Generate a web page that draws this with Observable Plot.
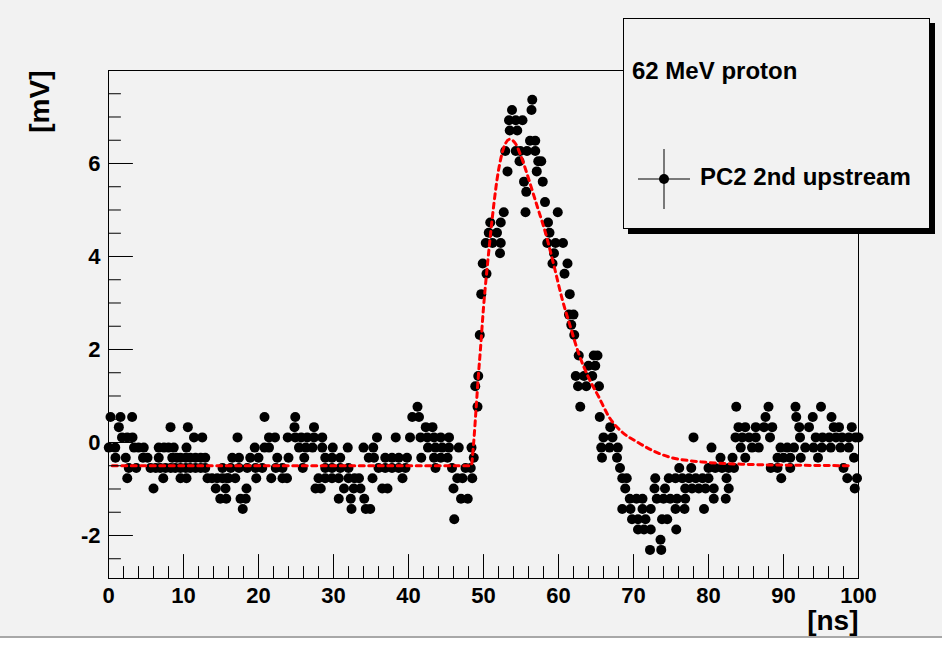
<!DOCTYPE html>
<html><head><meta charset="utf-8">
<script src="https://cdn.jsdelivr.net/npm/d3@7"></script>
<script src="https://cdn.jsdelivr.net/npm/@observablehq/plot@0.6"></script>
<style>
html,body{margin:0;padding:0;background:#f2f2f2;}
#wrap{position:relative;width:942px;height:645px;overflow:hidden;font-family:"Liberation Sans",Arial,Helvetica,sans-serif;font-weight:bold;}
#legend{position:absolute;left:623px;top:18px;width:305px;height:209px;border:1px solid #000;background:#f2f2f2;box-shadow:5px 5px 0 #000;}
#legend .t{position:absolute;font-size:24px;white-space:nowrap;}
#bottomEdge{position:absolute;left:0;top:636px;width:942px;height:9px;background:#ffffff;border-top:2px solid #a8a8a8;}
</style></head>
<body><div id="wrap"><div id="chart"></div>
<div id="legend">
  <div class="t" id="lt1" style="left:8px;top:38px;">62 MeV proton</div>
  <svg id="lmark" style="position:absolute;left:12px;top:128px" width="56" height="64"></svg>
  <div class="t" id="lt2" style="left:76px;top:144px;">PC2 2nd upstream</div>
</div>
<div id="bottomEdge"></div>
</div>
<script>
// ---- data: [time (ns), amplitude (mV)] ----
const baseline1 = [
 [0.27,0.55],[1.6,0.55],[3.15,0.55],
 [1.38,0.33],[8.27,0.33],[10.58,0.33],
 [1.8,0.11],[2.5,0.11],[3.2,0.11],[11.4,0.11],[12.5,0.11],
 [0.04,-0.11],[0.9,-0.11],[3.4,-0.11],[4.0,-0.11],[4.7,-0.11],[6.7,-0.11],[7.4,-0.11],[8.0,-0.11],[8.7,-0.11],[10.4,-0.11],
 [0.93,-0.33],[2.3,-0.33],[4.6,-0.33],[5.2,-0.33],[6.7,-0.33],[8.5,-0.33],[9.1,-0.33],[9.6,-0.33],[10.3,-0.33],[10.9,-0.33],[11.6,-0.33],[12.3,-0.33],[12.9,-0.33],
 [2.7,-0.55],[3.7,-0.55],[5.6,-0.55],[6.3,-0.55],[6.9,-0.55],[7.6,-0.55],[8.3,-0.55],[8.9,-0.55],[9.6,-0.55],[10.3,-0.55],[10.9,-0.55],[11.6,-0.55],[12.3,-0.55],[12.9,-0.55],[15.2,-0.55],
 [2.5,-0.77],[7.3,-0.77],[9.6,-0.77],[10.4,-0.77],[13.2,-0.77],[13.8,-0.77],[14.5,-0.77],[15.2,-0.77],[15.8,-0.77],
 [6.0,-0.99],[14.3,-0.99],[15.6,-0.99],
 [14.9,-1.21],[15.7,-1.21]
];
const baseline2 = [
 [20.8,0.55],[24.9,0.55],
 [24.8,0.33],[27.4,0.33],
 [17.2,0.11],[21.4,0.11],[22.2,0.11],[23.9,0.11],[24.9,0.11],[25.7,0.11],[26.5,0.11],[27.4,0.11],[28.5,0.11],
 [19.5,-0.11],[20.8,-0.11],[21.4,-0.11],[25.4,-0.11],[26.3,-0.11],[27.2,-0.11],[28.5,-0.11],[29.9,-0.11],[31.9,-0.11],
 [16.5,-0.33],[17.4,-0.33],[18.9,-0.33],[20.0,-0.33],[22.5,-0.33],[24.0,-0.33],[26.1,-0.33],[28.9,-0.33],[29.8,-0.33],[30.9,-0.33],
 [16.3,-0.55],[17.4,-0.55],[18.5,-0.55],[19.6,-0.55],[20.5,-0.55],[22.3,-0.55],[23.2,-0.55],[25.9,-0.55],[28.9,-0.55],[29.8,-0.55],[30.9,-0.55],[32.0,-0.55],
 [16.0,-0.77],[16.9,-0.77],[19.7,-0.77],[21.7,-0.77],[23.2,-0.77],[23.8,-0.77],[28.0,-0.77],[28.9,-0.77],[29.8,-0.77],[30.7,-0.77],[32.0,-0.77],[32.8,-0.77],
 [18.4,-0.99],[27.6,-0.99],[28.3,-0.99],[31.4,-0.99],[32.7,-0.99],
 [17.6,-1.21],[18.3,-1.21],[30.7,-1.21],[32.3,-1.21],
 [17.9,-1.43],[32.4,-1.43]
];
const baseline3 = [
 [41.2,0.77],
 [40.5,0.55],[41.4,0.55],
 [42.3,0.33],[43.2,0.33],
 [35.8,0.11],[38.3,0.11],[40.2,0.11],[41.6,0.11],[42.5,0.11],[43.4,0.11],[44.3,0.11],[45.4,0.11],
 [34.0,-0.11],[35.3,-0.11],[42.6,-0.11],[43.6,-0.11],[44.5,-0.11],[45.4,-0.11],[46.7,-0.11],[48.4,-0.11],
 [34.7,-0.33],[35.4,-0.33],[36.9,-0.33],[37.8,-0.33],[38.7,-0.33],[39.8,-0.33],[41.7,-0.33],[43.4,-0.33],[44.3,-0.33],[45.2,-0.33],[48.7,-0.33],
 [36.0,-0.55],[36.9,-0.55],[37.8,-0.55],[38.7,-0.55],[39.6,-0.55],[43.6,-0.55],[45.8,-0.55],[47.6,-0.55],[48.3,-0.55],
 [33.4,-0.77],[35.2,-0.77],[39.2,-0.77],[46.5,-0.77],[47.2,-0.77],[48.5,-0.77],
 [33.6,-0.99],[36.5,-0.99],[37.2,-0.99],[46.0,-0.99],
 [34.1,-1.21],[47.0,-1.21],[47.9,-1.21],
 [34.3,-1.43],[34.9,-1.43],
 [46.1,-1.65]
];
const pulse = [
 [49.2,0.77],[48.9,1.21],[49.3,1.43],[49.5,2.31],[49.7,3.19],[49.9,3.85],[50.4,3.63],
 [50.3,4.29],[51.2,4.29],[52.3,4.29],[52.2,4.07],[50.7,4.51],[51.8,4.51],[50.9,4.73],[52.3,4.73],[52.7,4.95],
 [53.2,5.83],[52.9,6.27],[53.5,6.71],[54.5,6.71],[53.4,6.93],[54.3,6.93],[55.2,6.93],[53.8,7.15],[56.5,7.37],[56.4,7.15],
 [56.2,6.49],[56.9,6.49],[54.3,6.27],[54.9,6.27],[55.8,6.27],[56.9,6.27],[54.8,6.05],[57.3,6.05],[57.7,6.05],[57.1,5.83],
 [55.4,5.61],[57.9,5.61],[55.7,5.39],[58.2,5.17],[55.6,4.95],[59.9,4.95],[58.6,4.73],[58.8,4.51],
 [58.5,4.29],[59.6,4.29],[60.6,4.29],[59.4,4.07],[59.2,3.85],[61.2,3.85],[60.8,3.63],[61.5,3.19],[61.4,2.75],[62.0,2.75],[61.7,2.53],[62.1,2.31]
];
const undershoot = [
 [62.7,1.87],[64.7,1.87],[65.2,1.87],[64.0,1.65],[64.9,1.65],[62.3,1.43],[63.4,1.43],[64.5,1.43],[62.6,1.21],[63.7,1.21],[65.4,1.21],
 [62.9,0.77],[65.5,0.55],[66.9,0.33],[66.0,0.11],[67.2,0.11],[78.0,0.11],
 [65.7,-0.11],[66.8,-0.11],[67.9,-0.11],
 [65.8,-0.33],[67.8,-0.33],
 [68.2,-0.55],[76.1,-0.55],[77.7,-0.55],
 [68.5,-0.77],[69.1,-0.77],[72.9,-0.77],[74.7,-0.77],[75.6,-0.77],[76.5,-0.77],[77.4,-0.77],[78.3,-0.77],[79.2,-0.77],
 [68.9,-0.99],[72.8,-0.99],[74.2,-0.99],[76.9,-0.99],[77.8,-0.99],[78.7,-0.99],
 [69.5,-1.21],[70.4,-1.21],[71.2,-1.21],[73.1,-1.21],[74.0,-1.21],[74.9,-1.21],[75.8,-1.21],[76.9,-1.21],
 [68.5,-1.43],[69.6,-1.43],[71.2,-1.43],[72.3,-1.43],[75.6,-1.43],[76.8,-1.43],[79.4,-1.43],
 [69.8,-1.65],[70.6,-1.65],[71.6,-1.65],[73.8,-1.65],[74.5,-1.65],
 [70.6,-1.87],[71.4,-1.87],[72.3,-1.87],[75.7,-1.87],
 [73.6,-2.09],
 [72.2,-2.31],[73.7,-2.31]
];
const tail = [
 [83.7,0.77],[88.0,0.77],[91.6,0.77],[95.0,0.77],
 [87.6,0.55],[91.7,0.55],[93.9,0.55],[96.4,0.55],
 [84.0,0.33],[84.9,0.33],[86.3,0.33],[87.4,0.33],[88.5,0.33],[92.1,0.33],[93.4,0.33],[96.7,0.33],[97.4,0.33],[99.1,0.33],
 [83.6,0.11],[84.5,0.11],[85.4,0.11],[86.3,0.11],[88.2,0.11],[92.2,0.11],[94.3,0.11],[95.2,0.11],[96.1,0.11],[97.0,0.11],[97.8,0.11],[98.7,0.11],[99.6,0.11],[100.0,0.11],
 [80.4,-0.11],[84.3,-0.11],[85.8,-0.11],[86.7,-0.11],[89.6,-0.11],[90.5,-0.11],[91.4,-0.11],[92.9,-0.11],[94.0,-0.11],[95.1,-0.11],[96.3,-0.11],[97.6,-0.11],[98.7,-0.11],
 [81.6,-0.33],[83.2,-0.33],[84.9,-0.33],[89.2,-0.33],[90.0,-0.33],[90.9,-0.33],[92.3,-0.33],[94.6,-0.33],[99.4,-0.33],
 [80.0,-0.55],[80.9,-0.55],[81.8,-0.55],[82.7,-0.55],[83.4,-0.55],[88.3,-0.55],[89.2,-0.55],[90.9,-0.55],[98.0,-0.55],
 [80.0,-0.77],[82.4,-0.77],[89.7,-0.77],[98.5,-0.77],[99.8,-0.77],
 [79.6,-0.99],[80.7,-0.99],[82.7,-0.99],[99.5,-0.99],
 [80.7,-1.21],[82.3,-1.21]
];
// fitted curve (red dashed)
const fitCurve = [
 [0.5,-0.5],[20,-0.5],[40,-0.5],[48.35,-0.5],[48.7,0.02],[49.0,0.7],[49.3,1.4],[49.6,2.02],[50.0,2.9],[50.5,3.78],[50.9,4.42],[51.4,5.15],[51.8,5.65],[52.3,6.1],[52.9,6.42],[53.5,6.52],[54.3,6.42],[54.9,6.2],[55.8,5.78],[56.5,5.42],[57.2,5.06],[58.3,4.49],[59.4,3.8],[60.5,3.08],[61.6,2.48],[62.7,1.91],[64.0,1.40],[65.4,0.97],[66.7,0.56],[68.5,0.22],[70.3,0.03],[72.5,-0.17],[74.7,-0.31],[77.4,-0.39],[79.2,-0.42],[85,-0.47],[92,-0.49],[99,-0.5]
];
const xTickLabels = [0,10,20,30,40,50,60,70,80,90,100];
const yTickLabels = [-2,0,2,4,6];
const xMinorTicks = d3.range(0, 101, 2);
const yMinorTicks = d3.range(-2.5, 8.01, 0.5);
const xDomain = [0, 100];
const yDomain = [-2.925, 8.0];
const titleX = "[ns]";
const titleY = "[mV]";
const legendTitle = "62 MeV proton";
const legendEntry = "PC2 2nd upstream";

const points = [...baseline1, ...baseline2, ...baseline3, ...pulse, ...undershoot, ...tail].map(([t, v]) => ({t, v}));
const fit = fitCurve.map(([t, v]) => ({t, v}));
const tickShape = {draw(ctx, l) { ctx.moveTo(0, 0); ctx.lineTo(0, -l); }};

const chart = Plot.plot({
  width: 942, height: 645,
  marginLeft: 108, marginRight: 84, marginTop: 70, marginBottom: 67,
  style: {background: "transparent", fontFamily: "'Liberation Sans', Arial, sans-serif", fontWeight: "bold", color: "black", overflow: "visible"},
  x: {domain: xDomain},
  y: {domain: yDomain},
  marks: [
    Plot.dot(points, {x: "t", y: "v", r: 5, fill: "black", stroke: "none"}),
    Plot.line(fit, {x: "t", y: "v", stroke: "#ff0000", strokeWidth: 3, strokeDasharray: "5,4.5", curve: "monotone-x"}),
    Plot.frame({stroke: "black", strokeWidth: 1}),
    Plot.vector(xMinorTicks, {x: d => d, y: yDomain[0], length: d => d % 10 === 0 ? 14 : 7, rotate: 0, anchor: "start", shape: tickShape, stroke: "black", strokeWidth: 1}),
    Plot.vector(yMinorTicks, {x: xDomain[0], y: d => d, length: d => Math.abs(d % 2) < 1e-9 ? 14 : 7, rotate: 90, anchor: "start", shape: tickShape, stroke: "black", strokeWidth: 1}),
    Plot.axisX(xTickLabels, {tickSize: 0, tickPadding: 9, fontSize: 22, fontWeight: "bold", label: null, tickFormat: d => String(d)}),
    Plot.axisY(yTickLabels, {tickSize: 0, tickPadding: 8, fontSize: 22, fontWeight: "bold", label: null, tickFormat: d => String(d)}),
    Plot.text([titleX], {frameAnchor: "bottom-right", dy: 51, textAnchor: "end", fontSize: 28, fontWeight: "bold"}),
    Plot.text([titleY], {frameAnchor: "top-left", dx: -79, rotate: -90, textAnchor: "end", fontSize: 28, fontWeight: "bold"})
  ]
});
document.getElementById("chart").appendChild(chart);
document.getElementById("lt1").textContent = legendTitle;
document.getElementById("lt2").textContent = legendEntry;
// legend marker: dot with error bars
const lm = d3.select("#lmark");
lm.append("line").attr("x1", 28).attr("x2", 28).attr("y1", 2).attr("y2", 62).attr("stroke", "black").attr("stroke-width", 1);
lm.append("line").attr("x1", 2).attr("x2", 54).attr("y1", 32).attr("y2", 32).attr("stroke", "black").attr("stroke-width", 1);
lm.append("circle").attr("cx", 28).attr("cy", 32).attr("r", 5).attr("fill", "black");
</script>
</body></html>
